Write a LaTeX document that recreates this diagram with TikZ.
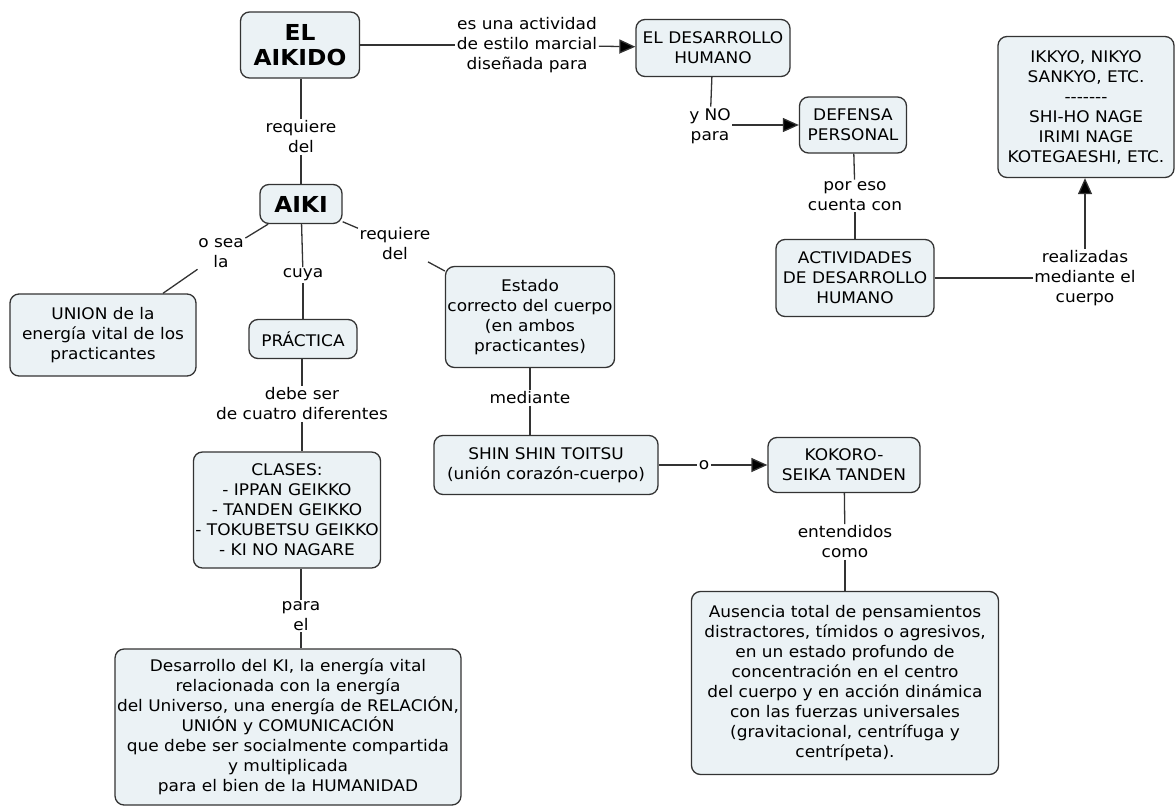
\documentclass[tikz,border=0pt]{standalone}
\usepackage{fontspec}
\setmainfont{DejaVu Sans}[FakeStretch=1.06]
\usetikzlibrary{arrows.meta,positioning}
\definecolor{cboxfill}{HTML}{EBF2F5}
\definecolor{cboxline}{HTML}{333333}
\tikzset{
    cbox/.style={
                draw=cboxline,
                line width=1.3pt,
                fill=cboxfill,
                rounded corners=9pt,
                align=center,
                inner sep=2pt,
                font=\fontsize{16}{20}\selectfont
            },
        bigbox/.style={
                cbox,
                font=\fontsize{22}{25}\selectfont\bfseries
            },
        linkword/.style={
                align=center,
                inner sep=1.5pt,
                font=\fontsize{16}{20}\selectfont
            },
        conn/.style={draw=cboxline, line width=1.3pt},
        arrowconn/.style={conn, -{Triangle[length=16pt,width=14pt,fill=black]}},
}

\begin{document}
\begin{tikzpicture}[x=1pt,y=-1pt]
  \useasboundingbox (0,0) rectangle (1176,806);
  % Concepts
  \node[bigbox, minimum width=119pt, minimum height=66pt] (aikido) at (300,45) {EL\\AIKIDO};
  \node[cbox, minimum width=154pt, minimum height=57pt] (desarrollo) at (713,48) {EL DESARROLLO\\HUMANO};
  \node[cbox, minimum width=107pt, minimum height=56pt] (defensa) at (853,125) {DEFENSA\\PERSONAL};
  \node[cbox, minimum width=176pt, minimum height=141pt] (tecnicas) at (1086,107) {IKKYO, NIKYO\\SANKYO, ETC.\\-{}-{}-{}-{}-{}-{}-\\SHI-HO NAGE\\IRIMI NAGE\\KOTEGAESHI, ETC.};
  \node[cbox, minimum width=158pt, minimum height=77pt] (actividades) at (855,278) {ACTIVIDADES\\DE DESARROLLO\\HUMANO};
  \node[bigbox, minimum width=82pt, minimum height=39pt] (aiki) at (301,204) {AIKI};
  \node[cbox, minimum width=186pt, minimum height=82pt] (union) at (103,335) {UNION de la\\energía vital de los\\practicantes};
  \node[cbox, minimum width=108pt, minimum height=39pt] (practica) at (303,339) {PRÁCTICA};
  \node[cbox, minimum width=158pt, minimum height=101pt] (estado) at (530,317) {Estado\\correcto del cuerpo\\(en ambos\\practicantes)};
  \node[cbox, minimum width=224pt, minimum height=59pt] (shinshin) at (546,465) {SHIN SHIN TOITSU\\(unión corazón-cuerpo)};
  \node[cbox, minimum width=152pt, minimum height=55pt] (kokoro) at (844,465) {KOKORO-\\SEIKA TANDEN};
  \node[cbox, minimum width=187pt, minimum height=116pt] (clases) at (287,510) {CLASES:\\- IPPAN GEIKKO\\- TANDEN GEIKKO\\- TOKUBETSU GEIKKO\\- KI NO NAGARE};
  \node[cbox, minimum width=307pt, minimum height=183pt] (ausencia) at (845,683) {Ausencia total de pensamientos\\distractores, tímidos o agresivos,\\en un estado profundo de\\concentración en el centro\\del cuerpo y en acción dinámica\\con las fuerzas universales\\(gravitacional, centrífuga y\\centrípeta).};
  \node[cbox, minimum width=342pt, minimum height=156pt] (kidev) at (288,727) {Desarrollo del KI, la energía vital\\relacionada con la energía\\del Universo, una energía de RELACIÓN,\\UNIÓN y COMUNICACIÓN\\que debe ser socialmente compartida\\y multiplicada\\para el bien de la HUMANIDAD};
  % Linking words
  \node[linkword] (esuna) at (527,45) {es una actividad\\de estilo marcial\\diseñada para};
  \node[linkword] (requiere) at (301,137) {requiere\\del};
  \node[linkword] (yno) at (710,126) {y NO\\para};
  \node[linkword] (poreso) at (855,196) {por eso\\cuenta con};
  \node[linkword] (realizadas) at (1085,278) {realizadas\\mediante el\\cuerpo};
  \node[linkword] (osea) at (221,253) {o sea\\la};
  \node[linkword] (cuya) at (303,275) {cuya};
  \node[linkword] (requiere2) at (395,244) {requiere\\del};
  \node[linkword] (debeser) at (302,404) {debe ser\\de cuatro diferentes};
  \node[linkword] (mediante) at (530,398) {mediante};
  \node[linkword] (o) at (704,465) {o};
  \node[linkword] (entendidos) at (845,542) {entendidos\\como};
  \node[linkword] (parael) at (301,616) {para\\el};
  % Connectors
  \draw[conn] (aikido) -- (esuna);
  \draw[arrowconn] (esuna) -- (desarrollo);
  \draw[conn] (aikido.south -| requiere) -- (requiere);
  \draw[conn] (requiere) -- (aiki);
  \draw[conn] (desarrollo) -- (yno);
  \draw[arrowconn] (yno.east |- defensa) -- (defensa);
  \draw[conn] (defensa) -- (poreso);
  \draw[conn] (poreso) -- (actividades);
  \draw[conn] (actividades) -- (realizadas);
  \draw[arrowconn] (realizadas) -- (realizadas |- tecnicas.south);
  \draw[conn] (aiki) -- (osea);
  \draw[conn] (osea) -- (union);
  \draw[conn] (aiki) -- (cuya);
  \draw[conn] (cuya) -- (practica);
  \draw[conn] (aiki) -- (requiere2);
  \draw[conn] (requiere2) -- (estado);
  \draw[conn] (practica.south -| debeser) -- (debeser);
  \draw[conn] (debeser) -- (debeser |- clases.north);
  \draw[conn] (estado) -- (mediante);
  \draw[conn] (mediante) -- (mediante |- shinshin.north);
  \draw[conn] (shinshin) -- (o);
  \draw[arrowconn] (o) -- (kokoro);
  \draw[conn] (kokoro) -- (entendidos);
  \draw[conn] (entendidos) -- (ausencia);
  \draw[conn] (clases.south -| parael) -- (parael);
  \draw[conn] (parael) -- (parael |- kidev.north);
\end{tikzpicture}
\end{document}
